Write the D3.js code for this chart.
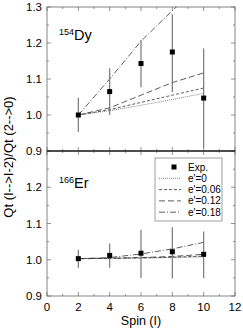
<!DOCTYPE html>
<html><head><meta charset="utf-8">
<script src="https://cdn.jsdelivr.net/npm/d3@7"></script>
<style>body{margin:0;background:#fff}svg{display:block}text{font-family:"Liberation Sans",Arial,sans-serif;fill:#000}</style>
</head><body><svg id="c" width="243" height="330"></svg>
<script>
const spins = [2, 4, 6, 8, 10];
const xTicks = [0, 2, 4, 6, 8, 10, 12];
const yTicks = [0.9, 1.0, 1.1, 1.2, 1.3];
// 154Dy
const dyExp = [1.0, 1.065, 1.143, 1.175, 1.047];
const dyLo  = [0.953, 1.0, 1.077, 1.063, 0.91];
const dyHi  = [1.048, 1.13, 1.208, 1.28, 1.185];
const dyE0  = [1.0, 1.012, 1.027, 1.043, 1.06];
const dyE06 = [1.0, 1.015, 1.035, 1.055, 1.075];
const dyE12 = [1.0, 1.02, 1.055, 1.09, 1.117];
const dyE18 = [1.0, 1.1, 1.205, 1.29, 1.37];
// 166Er
const erExp = [1.003, 1.012, 1.018, 1.022, 1.015];
const erLo  = [0.978, 0.978, 0.95, 0.948, 0.95];
const erHi  = [1.027, 1.045, 1.083, 1.09, 1.078];
const erE0  = [1.003, 1.004, 1.005, 1.006, 1.008];
const erE06 = [1.003, 1.004, 1.005, 1.007, 1.010];
const erE12 = [1.003, 1.004, 1.006, 1.009, 1.015];
const erE18 = [1.003, 1.006, 1.016, 1.030, 1.048];
const legendLabels = ["Exp.", "e'=0", "e'=0.06", "e'=0.12", "e'=0.18"];
const dashes = ["1,1", "3,2", "6,3", "6,2,1,2"];

const svg = d3.select("#c");
const L = 47, R = 235;
const x = d3.scaleLinear().domain([0, 12]).range([L, R]);
const panels = [
  {top: 7, bot: 151, exp: dyExp, lo: dyLo, hi: dyHi, lines: [dyE0, dyE06, dyE12, dyE18], iso: "154", el: "Dy", ly: 40, showX: false, id: "a"},
  {top: 151, bot: 296, exp: erExp, lo: erLo, hi: erHi, lines: [erE0, erE06, erE12, erE18], iso: "166", el: "Er", ly: 188, showX: true, id: "b"}
];
panels.forEach(p => {
  const y = d3.scaleLinear().domain([0.9, 1.3]).range([p.bot, p.top]);
  p.y = y;
  svg.append("clipPath").attr("id", "clip" + p.id).append("rect")
    .attr("x", L).attr("y", p.top).attr("width", R - L).attr("height", p.bot - p.top);
  // ticks
  const g = svg.append("g").attr("stroke", "#777").attr("stroke-width", 0.8);
  d3.range(0, 12.01, 1).forEach(v => {
    const len = (v % 2 === 0) ? 4 : 2;
    g.append("line").attr("x1", x(v)).attr("x2", x(v)).attr("y1", p.bot).attr("y2", p.bot - len);
    g.append("line").attr("x1", x(v)).attr("x2", x(v)).attr("y1", p.top).attr("y2", p.top + len);
  });
  d3.range(0.9, 1.3001, 0.05).forEach((v, i) => {
    const len = (i % 2 === 0) ? 4 : 2;
    g.append("line").attr("x1", L).attr("x2", L + len).attr("y1", y(v)).attr("y2", y(v));
    g.append("line").attr("x1", R).attr("x2", R - len).attr("y1", y(v)).attr("y2", y(v));
  });
  // frame
  svg.append("rect").attr("x", L).attr("y", p.top).attr("width", R - L).attr("height", p.bot - p.top)
    .attr("fill", "none").attr("stroke", "#666").attr("stroke-width", 0.8);
  // y tick labels
  yTicks.forEach(v => {
    if (p.id === "b" && v === 1.3) return;
    svg.append("text").attr("x", 42).attr("y", y(v) + 4).attr("text-anchor", "end")
      .attr("font-size", 11.5).text(d3.format(".1f")(v));
  });
  // model lines
  const lg = svg.append("g").attr("clip-path", "url(#clip" + p.id + ")");
  p.lines.forEach((arr, k) => {
    lg.append("path").attr("d", d3.line().x((d, i) => x(spins[i])).y(d => y(d))(arr))
      .attr("fill", "none").attr("stroke", k === 0 ? "#666" : "#333").attr("stroke-width", 0.8)
      .attr("stroke-dasharray", dashes[k]);
  });
  // error bars
  spins.forEach((s, i) => {
    svg.append("line").attr("x1", x(s)).attr("x2", x(s)).attr("y1", y(p.lo[i])).attr("y2", y(p.hi[i]))
      .attr("stroke", "#777").attr("stroke-width", 1.2);
  });
  spins.forEach((s, i) => {
    svg.append("rect").attr("x", x(s) - 2.5).attr("y", y(p.exp[i]) - 2.5).attr("width", 5).attr("height", 5).attr("fill", "#000");
  });
  // isotope label
  const t = svg.append("text").attr("x", 59).attr("y", p.ly).attr("font-size", 14.5);
  t.append("tspan").attr("font-size", 9).attr("dy", -5).text(p.iso);
  t.append("tspan").attr("dy", 5).text(p.el);
  if (p.showX) {
    xTicks.forEach(v => {
      svg.append("text").attr("x", x(v)).attr("y", 311).attr("text-anchor", "middle").attr("font-size", 11.5).text(v);
    });
  }
});
// middle line
svg.append("line").attr("x1", L).attr("x2", R).attr("y1", 151).attr("y2", 151).attr("stroke", "#000").attr("stroke-width", 1.2);
// axis titles
svg.append("text").attr("x", x(6)).attr("y", 325).attr("text-anchor", "middle").attr("font-size", 12.5).text("Spin (I)");
svg.append("text").attr("transform", "translate(13,157) rotate(-90)").attr("text-anchor", "middle")
  .attr("font-size", 13).text("Qt (I-->I-2)/Qt (2-->0)");
// legend
const lgd = svg.append("g");
lgd.append("rect").attr("x", 155).attr("y", 158).attr("width", 67).attr("height", 63)
  .attr("fill", "#fff").attr("stroke", "#888").attr("stroke-width", 0.8);
const ly0 = 167, ldy = 11.3;
legendLabels.forEach((lab, k) => {
  const yy = ly0 + k * ldy;
  if (k === 0) {
    lgd.append("rect").attr("x", 171.5).attr("y", yy - 2.5).attr("width", 5).attr("height", 5).attr("fill", "#000");
  } else {
    lgd.append("line").attr("x1", 159).attr("x2", 181).attr("y1", yy).attr("y2", yy)
      .attr("stroke", k === 1 ? "#666" : "#333").attr("stroke-width", 0.8).attr("stroke-dasharray", dashes[k - 1]);
  }
  lgd.append("text").attr("x", 188).attr("y", yy + 3.5).attr("font-size", 10).text(lab);
});
</script></body></html>
